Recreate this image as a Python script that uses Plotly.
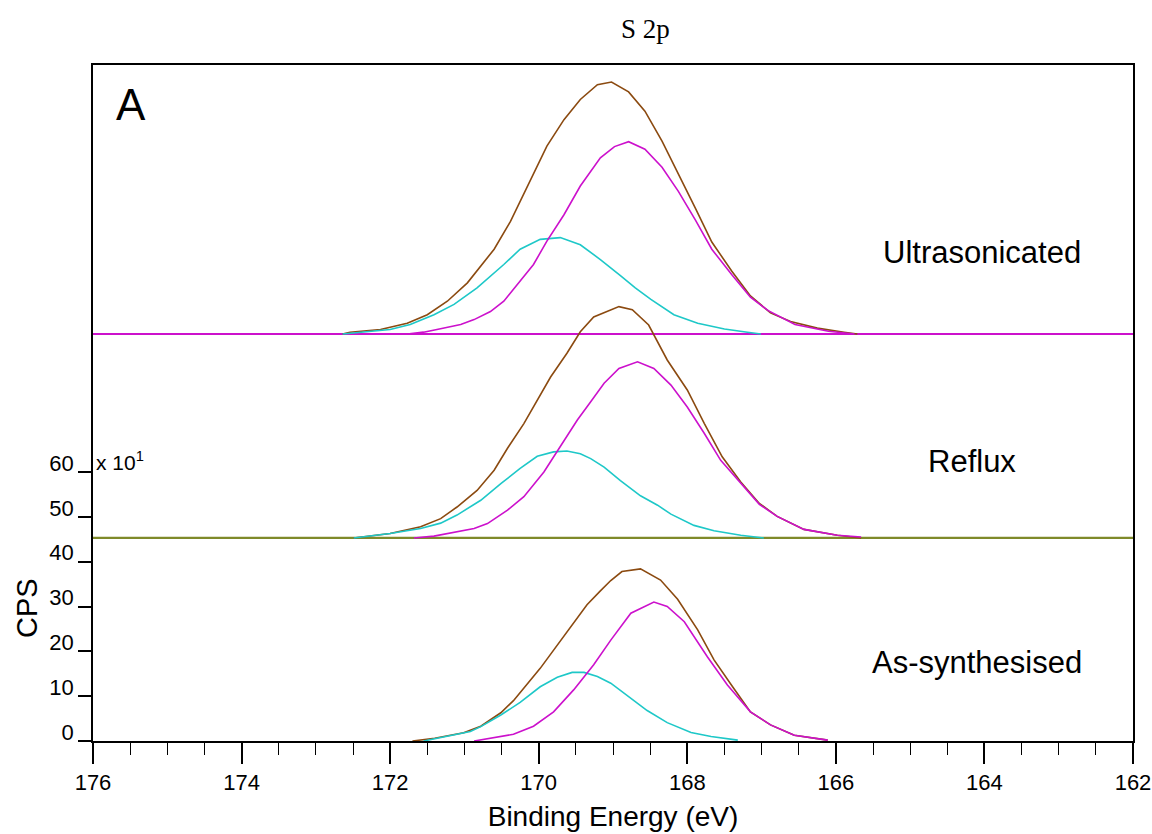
import plotly.graph_objects as go

# ---------------- data (CPS in units of x10^1, binding energy in eV) ----------------
offset_as = 0.0
offset_reflux = 45.3
offset_ultra = 90.8

as_env_be = [171.70, 171.40, 171.01, 170.78, 170.51, 170.34, 169.98, 169.80, 169.53, 169.35, 169.17, 169.03,
             168.88, 168.63, 168.36, 168.13, 167.86, 167.64, 167.39, 167.15, 166.88, 166.56, 166.11]
as_env = [0, 0.6, 1.85, 3.3, 6.3, 9.0, 16.2, 20.3, 26.3, 30.4, 33.5, 35.8,
          37.8, 38.4, 35.9, 31.6, 24.8, 18.1, 12.1, 6.5, 3.6, 1.3, 0.2]
as_mag_be = [170.87, 170.34, 170.07, 169.80, 169.53, 169.26, 169.03, 168.76, 168.45, 168.27, 168.04,
             167.73, 167.46, 167.15, 166.88, 166.56, 166.11]
as_mag = [0, 1.5, 3.3, 6.5, 11.4, 17.0, 22.5, 28.5, 31.0, 30.0, 26.6, 18.8, 12.5, 6.5, 3.6, 1.3, 0.2]
as_cyan_be = [171.55, 171.23, 170.92, 170.78, 170.51, 170.25, 169.98, 169.75, 169.55, 169.39, 169.21, 169.03,
              168.76, 168.54, 168.27, 167.95, 167.68, 167.32]
as_cyan = [0, 1.1, 2.1, 3.2, 5.8, 8.6, 12.1, 14.2, 15.3, 15.3, 14.4, 12.9, 9.5, 6.8, 4.1, 1.9, 1.0, 0.2]

rf_env_be = [172.49, 172.00, 171.59, 171.32, 171.10, 170.83, 170.60, 170.42, 170.20, 170.02, 169.84, 169.62,
             169.44, 169.26, 168.92, 168.74, 168.52, 168.27, 168.00, 167.77, 167.53, 167.28, 167.03, 166.79,
             166.43, 165.98, 165.66]
rf_env = [0, 1.0, 2.5, 4.3, 6.9, 10.6, 15.1, 20.0, 25.5, 30.7, 35.9, 41.2,
          46.0, 49.3, 51.6, 50.9, 47.5, 39.7, 33.0, 25.5, 18.1, 12.5, 7.7, 4.8, 1.9, 0.6, 0]
rf_mag_be = [171.68, 171.41, 170.87, 170.69, 170.42, 170.20, 169.93, 169.71, 169.48, 169.30, 169.12, 168.92,
             168.67, 168.45, 168.22, 168.00, 167.77, 167.55, 167.28, 167.03, 166.79, 166.43, 165.98, 165.66]
rf_mag = [0, 0.4, 2.1, 3.2, 6.2, 9.2, 14.7, 20.3, 26.3, 30.4, 34.5, 37.8,
          39.3, 37.8, 34.1, 29.2, 23.3, 17.3, 12.1, 7.5, 4.8, 1.9, 0.6, 0.2]
rf_cyan_be = [172.49, 172.00, 171.59, 171.32, 171.10, 170.78, 170.51, 170.25, 170.02, 169.80, 169.62, 169.44,
              169.30, 169.12, 168.90, 168.63, 168.40, 168.22, 167.91, 167.64, 167.28, 166.97]
rf_cyan = [0, 1.0, 2.1, 3.3, 5.1, 8.4, 12.1, 15.5, 18.2, 19.2, 19.4, 18.8,
           17.7, 15.8, 12.8, 9.4, 7.3, 5.3, 2.8, 1.6, 0.6, 0]

us_env_be = [172.64, 172.54, 172.13, 171.77, 171.50, 171.23, 170.96, 170.78, 170.60, 170.38, 170.20, 170.07,
             169.89, 169.66, 169.44, 169.21, 169.02, 168.79, 168.57, 168.34, 168.12, 167.89, 167.67, 167.40,
             167.15, 166.88, 166.61, 166.25, 165.89, 165.71]
us_env = [0, 0.4, 1.0, 2.4, 4.3, 7.3, 11.4, 15.1, 18.9, 25.1, 31.2, 35.6,
          41.9, 47.8, 52.3, 55.6, 56.2, 54.0, 49.7, 43.0, 35.8, 28.0, 20.5, 14.0,
          8.5, 4.7, 2.8, 1.3, 0.4, 0]
us_mag_be = [171.77, 171.55, 171.37, 171.05, 170.87, 170.65, 170.47, 170.29, 170.07, 169.89, 169.66, 169.44,
             169.17, 168.98, 168.79, 168.57, 168.34, 168.12, 167.89, 167.67, 167.40, 167.15, 166.91, 166.55,
             166.10, 165.75]
us_mag = [0, 0.4, 1.0, 2.1, 3.2, 5.0, 7.3, 11.0, 15.5, 20.7, 26.6, 33.0,
          39.3, 41.8, 42.9, 41.2, 37.2, 31.8, 25.4, 18.9, 13.2, 8.2, 5.2, 2.1, 0.6, 0]
us_cyan_be = [172.64, 172.36, 172.00, 171.73, 171.41, 171.14, 170.83, 170.47, 170.25, 169.98, 169.71, 169.44,
              169.17, 168.90, 168.70, 168.49, 168.18, 167.86, 167.50, 167.19, 167.01]
us_cyan = [0, 0.4, 1.0, 2.1, 4.3, 6.6, 10.3, 15.5, 18.9, 21.1, 21.5, 19.9,
           16.6, 13.0, 10.3, 7.7, 4.3, 2.4, 1.1, 0.4, 0]

x_range = [176, 162]
y_range = [0, 150.8]
y_tickvals = [0, 10, 20, 30, 40, 50, 60]
x_tickvals = [176, 174, 172, 170, 168, 166, 164, 162]
panel_labels = ["Ultrasonicated", "Reflux", "As-synthesised"]

BROWN = "#8b4a10"
CYAN = "#1ec8c8"
MAGENTA = "#cc11cc"
OLIVE = "#7f8a2a"

fig = go.Figure()

def add(xs, ys, off, color, width=1.6):
    fig.add_trace(go.Scatter(x=xs, y=[v + off for v in ys], mode="lines",
                             line=dict(color=color, width=width), showlegend=False, hoverinfo="skip"))

# baselines
add(x_range, [0, 0], offset_reflux, OLIVE, 2.2)
add(x_range, [0, 0], offset_ultra, MAGENTA, 2.0)

for (eb, e, cb, c, mb, m, off) in [
    (as_env_be, as_env, as_cyan_be, as_cyan, as_mag_be, as_mag, offset_as),
    (rf_env_be, rf_env, rf_cyan_be, rf_cyan, rf_mag_be, rf_mag, offset_reflux),
    (us_env_be, us_env, us_cyan_be, us_cyan, us_mag_be, us_mag, offset_ultra),
]:
    add(eb, e, off, BROWN)
    add(cb, c, off, CYAN)
    add(mb, m, off, MAGENTA)

SANS = "Liberation Sans, Arial, sans-serif"

W, H = 1152, 834
L, R, T, B = 93, 19, 65, 93
pw, ph = W - L - R, H - T - B

def px(x):
    return (x - L) / pw

def py(y):
    return (H - B - y) / ph

fig.update_layout(
    width=W, height=H,
    margin=dict(l=L, r=R, t=T, b=B, autoexpand=False),
    paper_bgcolor="white", plot_bgcolor="white",
    showlegend=False,
    xaxis=dict(
        range=x_range, tickvals=x_tickvals, ticks="outside", ticklen=21, tickwidth=1.5,
        tickcolor="black", showline=True, linecolor="black", linewidth=2, mirror=True,
        showgrid=False, zeroline=False, ticklabeloverflow="allow", automargin=False,
        tickfont=dict(family=SANS, size=22, color="black"),
        minor=dict(dtick=0.5, ticks="outside", ticklen=12, tickwidth=1.2, tickcolor="black", showgrid=False),
        title=dict(text="Binding Energy (eV)", font=dict(family=SANS, size=28, color="black"), standoff=12),
    ),
    yaxis=dict(
        range=y_range, tickvals=y_tickvals, ticks="outside", ticklen=13, tickwidth=1.5,
        tickcolor="black", showline=True, linecolor="black", linewidth=1.5, mirror=True,
        showgrid=False, zeroline=False, ticklabelshift=-9, ticklabelstandoff=0, automargin=False,
        tickfont=dict(family=SANS, size=22, color="black"),
    ),
)

ann = [
    dict(text="S 2p", x=px(645), y=py(29), font=dict(family="Liberation Serif, Times New Roman, serif", size=27)),
    dict(text="A", x=px(131), y=py(104), font=dict(family=SANS, size=44)),
    dict(text=panel_labels[0], x=px(982), y=py(252), font=dict(family=SANS, size=31)),
    dict(text=panel_labels[1], x=px(972), y=py(461), font=dict(family=SANS, size=31)),
    dict(text=panel_labels[2], x=px(977), y=py(662), font=dict(family=SANS, size=31)),
    dict(text="x 10<sup>1</sup>", x=px(94), y=py(461), xanchor="left", font=dict(family=SANS, size=21)),
    dict(text="CPS", x=px(27), y=py(608), textangle=-90, font=dict(family=SANS, size=29)),
]
for a in ann:
    a.setdefault("xanchor", "center")
    a.update(xref="paper", yref="paper", yanchor="middle", showarrow=False)
    a["font"]["color"] = "black"
fig.update_layout(annotations=ann)

fig.write_html("out.html")
